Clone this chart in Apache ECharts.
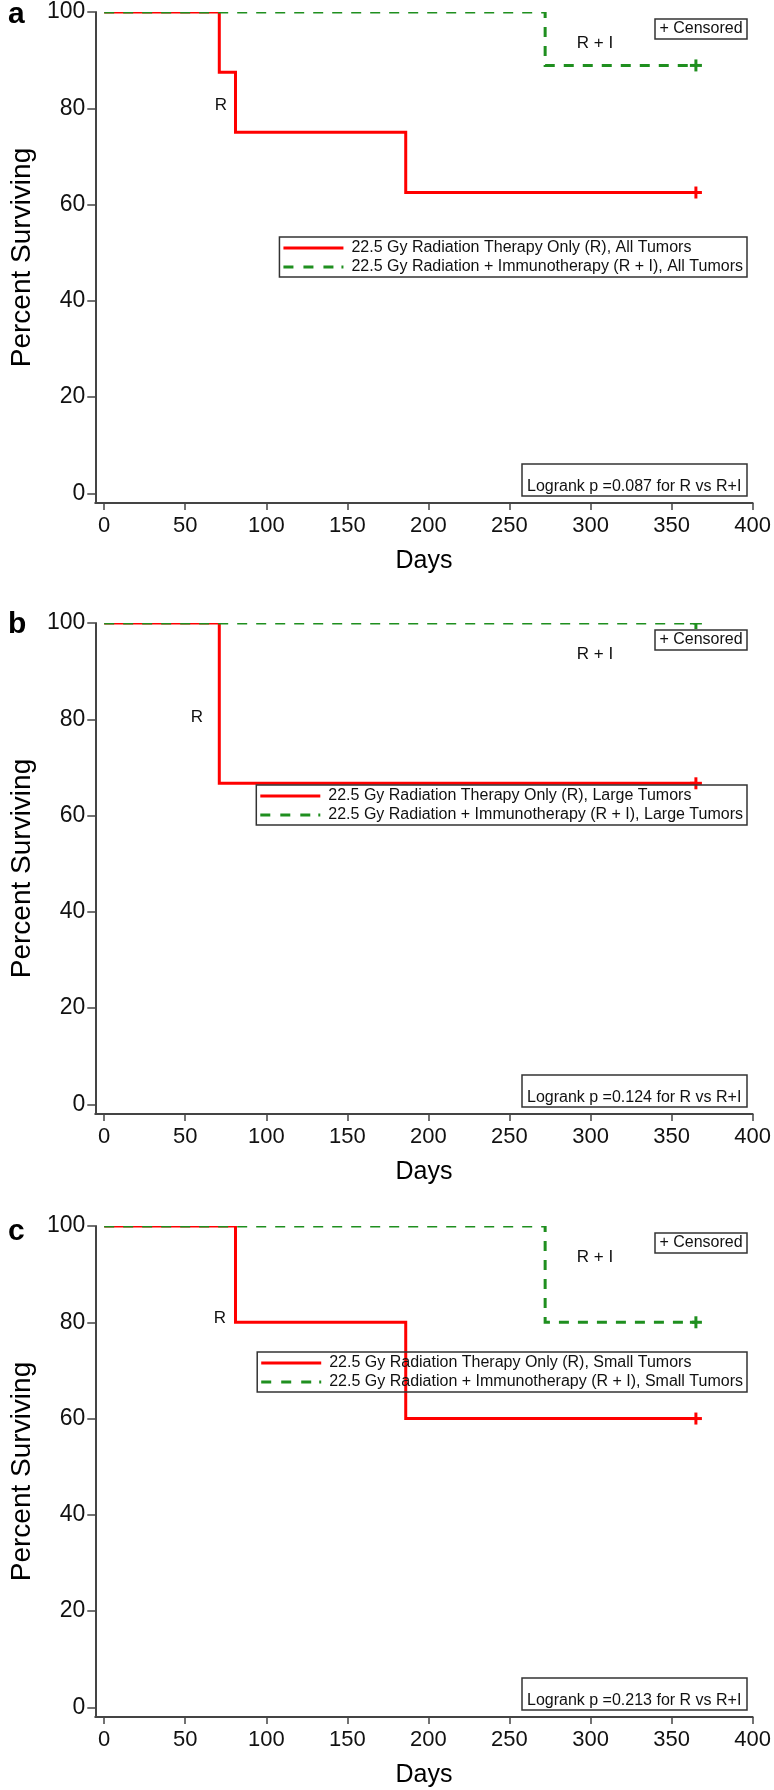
<!DOCTYPE html>
<html><head><meta charset="utf-8">
<script src="https://cdn.jsdelivr.net/npm/echarts@6/dist/echarts.min.js"></script>
<style>html,body{margin:0;padding:0;background:#fff}#c{width:774px;height:1790px}</style>
</head><body><div id="c"></div>
<script>
// ---------- data ----------
const xTicks = [0, 50, 100, 150, 200, 250, 300, 350, 400];
const yTicks = [0, 20, 40, 60, 80, 100];
const panelLetters = ['a', 'b', 'c'];
const groupLabels = ['All Tumors', 'Large Tumors', 'Small Tumors'];
const pValues = ['0.087', '0.124', '0.213'];
// Radiation only (R): event times (days) and survival (%)
const rTimes = [[0, 71, 81, 186, 365], [0, 71, 365], [0, 81, 186, 365]];
const rSurv  = [[100, 87.5, 75, 62.5, 62.5], [100, 66.7, 66.7], [100, 80, 60, 60]];
// Radiation + Immunotherapy (R + I)
const riTimes = [[0, 272, 365], [0, 365], [0, 272, 365]];
const riSurv  = [[100, 88.9, 88.9], [100, 100], [100, 80, 80]];
// censored observations
const rCensT  = [[365], [365], [365]];
const rCensS  = [[62.5], [66.7], [60]];
const riCensT = [[365], [365], [365]];
const riCensS = [[88.9], [100], [80]];

// ---------- layout / style ----------
const FONT = "'Liberation Sans', Arial, Helvetica, sans-serif";
const RED = '#ff0000', GREEN = '#1f8f1f', AXIS = '#444';
const tops = [12, 623, 1226];
const plotH = 491;
const legendOff = [225, 162, 126];
const letterOff = [2.5, 1.5, 5.5];
const rLabelPos = [[221, 93], [197, 94], [220, 92]];

const solidIcon = 'path://M0,0H60V3H0Z';
const dashIcon = 'path://M0,0h10v3h-10z M20,0h10v3h-10z M40,0h10v3h-10z M58,0h2v3h-2z';

function stepSeries(name, i, times, surv, color, dash) {
  return {
    type: 'custom', name: name, xAxisIndex: i, yAxisIndex: i, clip: true,
    lineStyle: { width: 0.001 }, itemStyle: { color: color },
    data: times.map((t, k) => [t, surv[k]]),
    encode: { x: 0, y: 1 },
    renderItem: function (params, api) {
      if (params.dataIndex !== 0) return null;
      const pts = [];
      for (let k = 0; k < times.length; k++) {
        const p = api.coord([times[k], surv[k]]);
        if (k > 0) pts.push([p[0], pts[pts.length - 1][1]]);
        pts.push(p);
      }
      return { type: 'polyline', shape: { points: pts },
        style: { stroke: color, lineWidth: 3, fill: null, lineDash: dash } };
    }
  };
}
function censorSeries(i, times, surv, color) {
  return {
    type: 'custom', xAxisIndex: i, yAxisIndex: i, clip: true,
    lineStyle: { width: 0.001 }, itemStyle: { color: color },
    data: times.map((t, k) => [t, surv[k]]),
    encode: { x: 0, y: 1 },
    renderItem: function (params, api) {
      const p = api.coord([api.value(0), api.value(1)]);
      const h = 6;
      return { type: 'group', children: [
        { type: 'line', shape: { x1: p[0] - h, y1: p[1], x2: p[0] + h, y2: p[1] }, style: { stroke: color, lineWidth: 3 } },
        { type: 'line', shape: { x1: p[0], y1: p[1] - h, x2: p[0], y2: p[1] + h }, style: { stroke: color, lineWidth: 3 } }
      ] };
    }
  };
}

const grids = [], xAxes = [], yAxes = [], series = [], legends = [], graphics = [];
tops.forEach((T, i) => {
  const rName = '22.5 Gy Radiation Therapy Only (R), ' + groupLabels[i];
  const riName = '22.5 Gy Radiation + Immunotherapy (R + I), ' + groupLabels[i];
  grids.push({ left: 85, right: 20, top: T, height: plotH });
  xAxes.push({
    gridIndex: i, type: 'value', min: -5.5, max: 400,
    axisLine: { show: true, onZero: false, lineStyle: { color: AXIS, width: 2 } },
    axisTick: { show: true, length: 7, customValues: xTicks, lineStyle: { color: AXIS, width: 1.5 } },
    axisLabel: { customValues: xTicks, margin: 12, fontSize: 22, color: '#111', fontFamily: FONT },
    splitLine: { show: false },
    name: 'Days', nameLocation: 'middle', nameGap: 46,
    nameTextStyle: { fontSize: 25, color: '#000', fontFamily: FONT }
  });
  yAxes.push({
    gridIndex: i, type: 'value', min: -2, max: 100,
    axisLine: { show: true, onZero: false, lineStyle: { color: AXIS, width: 2 } },
    axisTick: { show: true, length: 8, customValues: yTicks, lineStyle: { color: AXIS, width: 1.5 } },
    axisLabel: { customValues: yTicks, margin: 10, fontSize: 23, color: '#111', fontFamily: FONT },
    splitLine: { show: false },
    name: 'Percent Surviving', nameLocation: 'middle', nameGap: 58,
    nameTextStyle: { fontSize: 28, color: '#000', fontFamily: FONT }
  });
  series.push(stepSeries(rName, i, rTimes[i], rSurv[i], RED, null));
  series.push(stepSeries(riName, i, riTimes[i], riSurv[i], GREEN, [10, 9]));
  series.push(censorSeries(i, rCensT[i], rCensS[i], RED));
  series.push(censorSeries(i, riCensT[i], riCensS[i], GREEN));
  legends.push({
    data: [{ name: rName, icon: solidIcon }, { name: riName, icon: dashIcon }],
    orient: 'vertical', right: 27, top: T + legendOff[i],
    itemWidth: 60, itemHeight: 16, itemGap: 3, padding: [3, 4, 2, 4],
    borderColor: '#333', borderWidth: 1.5, selectedMode: false,
    textStyle: { fontSize: 16, fontFamily: FONT, color: '#111', lineHeight: 16, padding: [0, 0, 0, 3] }
  });
  const B = T + plotH;
  graphics.push(
    { type: 'text', x: 8, y: T + letterOff[i], style: { text: panelLetters[i], font: 'bold 30px ' + FONT, fill: '#000', verticalAlign: 'middle' } },
    { type: 'text', x: rLabelPos[i][0], y: T + rLabelPos[i][1], style: { text: 'R', font: '17px ' + FONT, fill: '#111', align: 'center', verticalAlign: 'middle' } },
    { type: 'text', x: 595, y: T + 31, style: { text: 'R + I', font: '17px ' + FONT, fill: '#111', align: 'center', verticalAlign: 'middle' } },
    { type: 'rect', shape: { x: 655, y: T + 7, width: 92, height: 20 }, style: { fill: '#fff', stroke: '#333', lineWidth: 1.5 } },
    { type: 'text', x: 701, y: T + 17, style: { text: '+ Censored', font: '16px ' + FONT, fill: '#111', align: 'center', verticalAlign: 'middle' } },
    { type: 'rect', shape: { x: 522, y: B - 39, width: 225, height: 32 }, style: { fill: '#fff', stroke: '#333', lineWidth: 1.5 } },
    { type: 'text', x: 527, y: B - 16, style: { text: 'Logrank p =' + pValues[i] + ' for R vs R+I', font: '16px ' + FONT, fill: '#111', align: 'left', verticalAlign: 'middle' } }
  );
});

const chart = echarts.init(document.getElementById('c'), null, { renderer: 'canvas' });
chart.setOption({
  animation: false, backgroundColor: '#fff',
  grid: grids, xAxis: xAxes, yAxis: yAxes, series: series, legend: legends,
  graphic: graphics
});
</script></body></html>
